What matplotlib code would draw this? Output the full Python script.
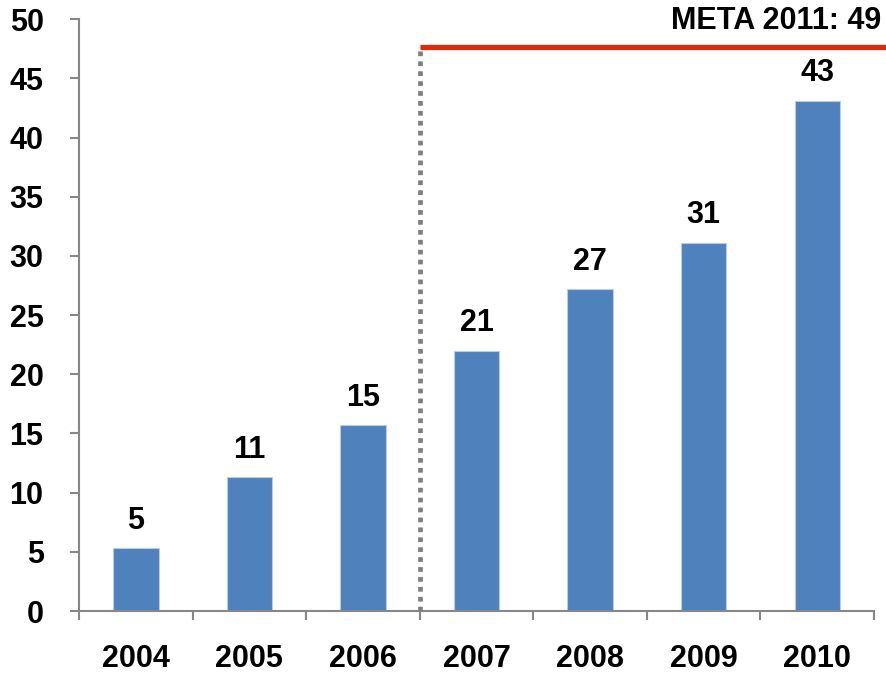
import numpy as np
import matplotlib
matplotlib.use('Agg')
import matplotlib.pyplot as plt

# data
years = ['2004', '2005', '2006', '2007', '2008', '2009', '2010']
values = [5.3, 11.3, 15.7, 22.0, 27.2, 31.1, 43.1]
value_labels = ['5', '11', '15', '21', '27', '31', '43']
goal_value = 47.7
goal_text = 'META 2011: 49'
split_at = 2.5  # boundary between 2006 and 2007

plt.rcParams['font.family'] = ['Liberation Sans', 'DejaVu Sans']
plt.rcParams['font.weight'] = 'bold'

fig = plt.figure(figsize=(8.86, 6.75), dpi=100)
ax = fig.add_axes([0.0892, 0.0948, 0.8973, 0.8766])

x = np.arange(len(years))
bars = ax.bar(x, values, width=0.40, color='#4F81BD', edgecolor='#B9CDE5', linewidth=0.8, zorder=2)

for xi, v, lab in zip(x, values, value_labels):
    ax.annotate(lab, (xi, v), xytext=(0, 9), textcoords='offset points',
                ha='center', va='bottom', fontsize=22, fontweight='bold')

# dotted divider and goal line
ax.plot([split_at, split_at], [0, goal_value - 0.3], color='#7F7F7F', linestyle=(0, (1, 1.1)),
        linewidth=3.4, zorder=3, dash_capstyle='butt')
ax.plot([split_at, 6.61], [goal_value, goal_value], color='#E2290E', linewidth=3.8,
        clip_on=False, zorder=4, solid_capstyle='butt')
ax.text(6.56, 48.6, goal_text, ha='right', va='bottom', fontsize=22, fontweight='bold')

ax.set_xlim(-0.5, len(years) - 0.5)
ax.set_ylim(0, 50)
ax.set_yticks(np.arange(0, 51, 5))

# ticks at category boundaries, labels at centers
ax.set_xticks(np.arange(-0.5, len(years), 1.0))
ax.set_xticklabels([])
ax.set_xticks(x, minor=True)
ax.set_xticklabels(years, minor=True)
ax.tick_params(axis='x', which='minor', length=0, pad=24, labelsize=22)
ax.tick_params(axis='x', which='major', length=6.5, width=1.5, color='#878787', direction='out')
ax.tick_params(axis='y', length=6.5, width=1.5, color='#878787', direction='out', pad=19, labelsize=22)

for lab in ax.get_xticklabels(minor=True) + ax.get_yticklabels():
    lab.set_fontweight('bold')

for s in ['top', 'right']:
    ax.spines[s].set_visible(False)
for s in ['left', 'bottom']:
    ax.spines[s].set_color('#878787')
    ax.spines[s].set_linewidth(1.5)

fig.savefig('out.png', dpi=100)
